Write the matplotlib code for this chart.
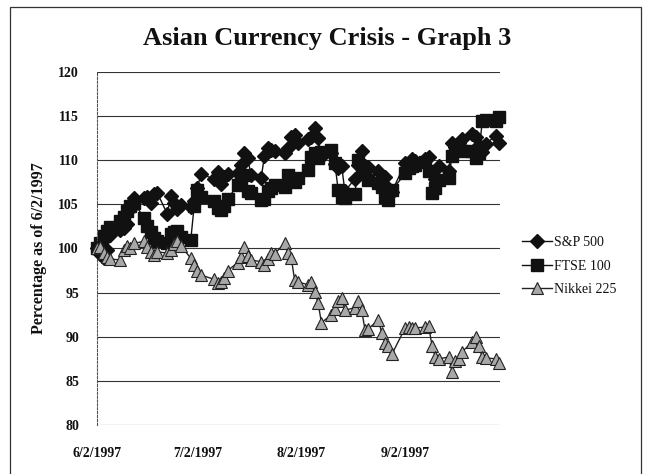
import numpy as np
import pandas as pd
import matplotlib
matplotlib.use("Agg")
import matplotlib.pyplot as plt
import matplotlib.dates as mdates
from matplotlib.patches import Rectangle

# ---- data (percent of 6/2/1997 level), trading days Jun 2 - Sep 30 1997 ----
dates = pd.bdate_range("1997-06-02", "1997-09-30")
dates = dates[~dates.isin(pd.to_datetime(["1997-07-04", "1997-09-01"]))]

sp500 = [100.0, 99.4, 98.9, 99.8, 101.5, 102.1, 102.3, 102.8, 104.5, 105.7,
         105.7, 105.8, 105.2, 106.2, 106.3, 103.9, 106.0, 105.2, 104.5, 104.9,
         104.7, 105.4, 106.9, 108.4, 107.9, 108.7, 107.3, 108.1, 108.4, 108.6,
         109.5, 110.8, 110.2, 108.3, 108.0, 110.5, 111.4, 111.2, 111.0, 110.8,
         111.4, 112.6, 112.9, 112.0, 112.4, 112.6, 113.6, 112.5, 110.4, 110.8,
         109.6, 109.1, 109.4, 106.5, 107.9, 109.5, 111.1, 109.4, 109.2, 108.8,
         108.0, 108.1, 106.9, 106.4, 109.7, 109.7, 110.1, 109.9, 110.1, 110.4,
         108.7, 107.9, 109.3, 108.8, 111.9, 111.5, 112.0, 112.4, 113.0, 112.6,
         111.7, 110.9, 111.8, 112.8, 112.0]

ftse100 = [100.0, 100.6, 101.4, 102.0, 102.4, 103.1, 103.6, 104.2, 104.8, 105.2,
           103.5, 102.6, 101.9, 101.2, 100.9, 100.6, 101.6, 101.9, 102.0, 101.3,
           101.0, 104.8, 106.6, 105.8, 105.4, 104.6, 104.4, 104.8, 105.6, 107.2,
           107.8, 108.3, 106.5, 106.3, 105.5, 105.6, 106.5, 106.8, 107.2, 107.0,
           108.3, 107.8, 107.5, 108.0, 108.9, 110.4, 110.8, 110.2, 110.9, 111.2,
           109.7, 106.6, 105.8, 105.7, 106.2, 110.0, 108.6, 108.9, 107.8, 107.4,
           107.0, 105.8, 105.5, 106.6, 108.5, 109.1, 109.3, 109.5, 109.8, 108.8,
           106.3, 106.9, 107.8, 108.0, 110.5, 111.6, 111.2, 111.0, 111.1, 110.2,
           110.8, 114.4, 114.6, 114.5, 114.9]

nikkei225 = [100.0, 100.2, 99.5, 99.0, 98.8, 98.7, 99.8, 100.3, 100.0, 100.6,
             100.8, 100.2, 99.6, 99.3, 99.6, 99.5, 99.8, 100.5, 100.8, 100.3,
             98.9, 98.1, 97.5, 97.0, 96.5, 96.1, 96.2, 96.7, 97.5, 98.4,
             99.0, 100.2, 99.2, 98.7, 98.5, 98.1, 98.8, 99.5, 99.4, 100.6,
             99.5, 98.9, 96.4, 96.2, 95.9, 96.2, 95.1, 93.8, 91.6, 92.5,
             93.2, 94.0, 94.4, 93.0, 93.3, 94.0, 93.0, 90.8, 90.9, 91.9,
             90.4, 89.3, 88.9, 88.0, 91.0, 91.1, 91.0, 91.0, 91.1, 91.2,
             89.0, 87.7, 87.5, 87.7, 86.0, 87.3, 87.5, 88.3, 89.4, 90.0,
             88.9, 87.7, 87.6, 87.5, 87.0]

series_names = ["S&P 500", "FTSE 100", "Nikkei 225"]
tick_dates = pd.to_datetime(["1997-06-02", "1997-07-02", "1997-08-02", "1997-09-02"])
yticks = [80, 85, 90, 95, 100, 105, 110, 115, 120]

# ---- figure ----
W, H = 646, 474
fig = plt.figure(figsize=(W / 100, H / 100), dpi=100)
fig.patch.set_facecolor("white")
serif = ["Liberation Serif", "DejaVu Serif"]

ax = fig.add_axes([97 / W, 1 - 425 / H, (500 - 97) / W, (425 - 72) / H])

ax.plot(dates, sp500, color="#111111", lw=1.0, marker="D", markersize=7,
        markerfacecolor="#111111", markeredgecolor="#111111", clip_on=False,
        label=series_names[0], zorder=3)
ax.plot(dates, ftse100, color="#111111", lw=1.0, marker="s", markersize=8.5,
        markerfacecolor="#111111", markeredgecolor="#111111", clip_on=False,
        label=series_names[1], zorder=2)
ax.plot(dates, nikkei225, color="#222222", lw=1.0, marker="^", markersize=8,
        markerfacecolor="#a8a8a8", markeredgecolor="#222222", markeredgewidth=0.8,
        clip_on=False, label=series_names[2], zorder=4)

ax.set_ylim(80, 120)
ax.set_yticks(yticks)
ax.set_xlim(dates[0], dates[-1] + pd.Timedelta(days=0.3))
ax.set_xticks(tick_dates)
ax.set_xticklabels([f"{d.month}/{d.day}/{d.year}" for d in tick_dates])

for lab in ax.get_yticklabels() + ax.get_xticklabels():
    lab.set_fontfamily(serif)
    lab.set_fontweight("bold")
    lab.set_fontsize(10)
    lab.set_color("#111111")
ax.tick_params(axis="both", length=0)
ax.tick_params(axis="y", pad=13)
ax.tick_params(axis="x", pad=16)

ax.grid(axis="y", color="#333333", lw=0.8)
ax.set_axisbelow(True)
for s in ["top", "right", "bottom"]:
    ax.spines[s].set_visible(False)
ax.spines["left"].set_color("#555555")
ax.spines["left"].set_linewidth(0.8)
ax.spines["left"].set_linestyle((0, (2, 1.5)))

ax.set_ylabel("Percentage as of 6/2/1997", fontfamily=serif, fontweight="bold",
              fontsize=11.5, labelpad=8, color="#111111")

fig.text(327 / W, 1 - 38 / H, "Asian Currency Crisis - Graph 3", ha="center",
         va="center", fontfamily=serif, fontweight="bold", fontsize=19,
         color="#111111")

leg = ax.legend(loc="center left", bbox_to_anchor=(516 / W, 1 - 266 / H),
                bbox_transform=fig.transFigure, frameon=False,
                prop={"family": serif, "size": 10}, handlelength=2.2,
                handletextpad=0.1, labelspacing=0.75, borderaxespad=0)
for t in leg.get_texts():
    t.set_color("#111111")

fig.add_artist(Rectangle((10 / W, -0.02), (641 - 10) / W, 1 - 7 / H + 0.02,
                         transform=fig.transFigure, fill=False,
                         edgecolor="#333333", lw=0.9))

fig.savefig("out.png", dpi=100, facecolor="white")
